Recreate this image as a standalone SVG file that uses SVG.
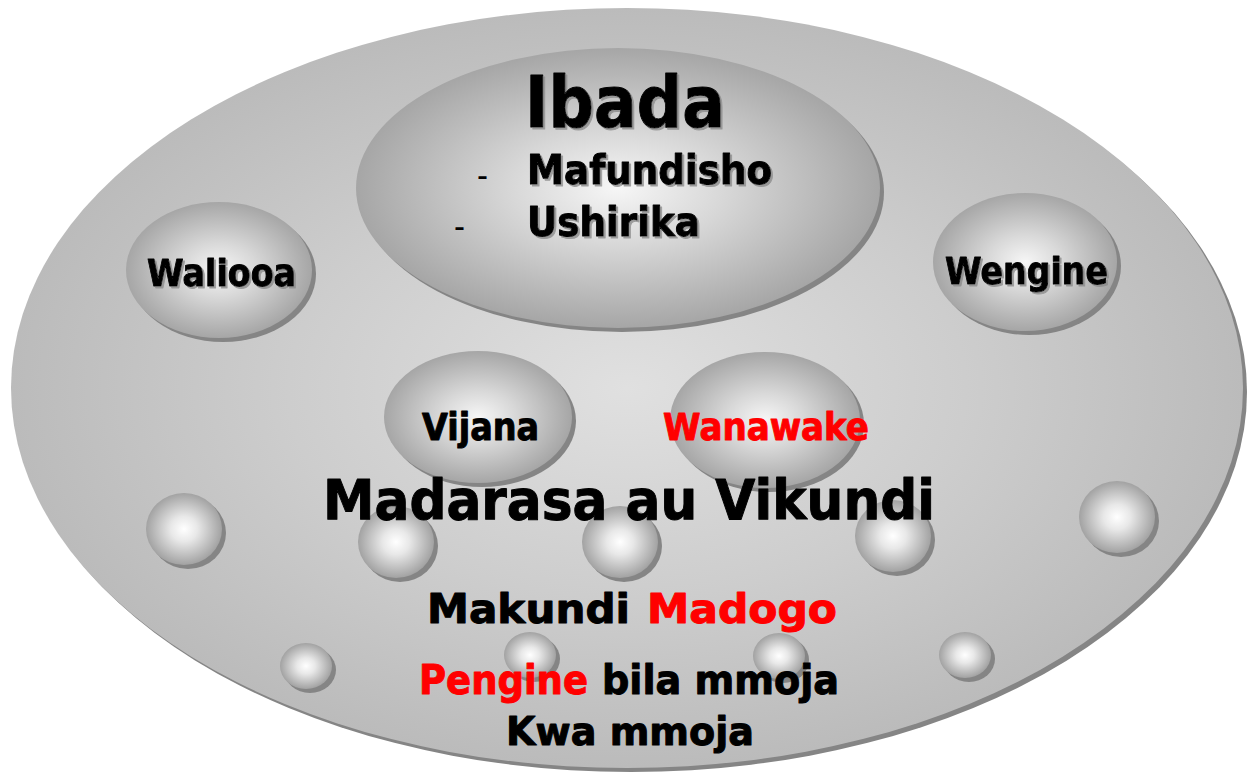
<svg xmlns="http://www.w3.org/2000/svg" width="1248" height="773" viewBox="0 0 1248 773">
<defs>
<radialGradient id="gMain" cx="50%" cy="50%" r="50%">
<stop offset="0" stop-color="#e0e0e0"/>
<stop offset="0.55" stop-color="#cdcdcd"/>
<stop offset="1" stop-color="#bbbbbb"/>
</radialGradient>
<radialGradient id="gBub" cx="50%" cy="50%" r="50%">
<stop offset="0" stop-color="#ffffff"/>
<stop offset="0.35" stop-color="#e8e8e8"/>
<stop offset="1" stop-color="#a2a2a2"/>
</radialGradient>
<radialGradient id="gBig" cx="50%" cy="50%" r="50%">
<stop offset="0" stop-color="#f6f6f6"/>
<stop offset="0.4" stop-color="#d8d8d8"/>
<stop offset="1" stop-color="#a6a6a6"/>
</radialGradient>
<filter id="ts" x="-10%" y="-10%" width="130%" height="140%">
<feDropShadow dx="2" dy="2" stdDeviation="0.6" flood-color="#8a8a8a" flood-opacity="0.8"/>
</filter>
</defs>
<style>
.sh{fill:#858585}
.bub{fill:url(#gBub)}
.big{fill:url(#gBig)}
.t{font-family:"DejaVu Sans","Liberation Sans",sans-serif;font-weight:bold;fill:#000;stroke:#000;stroke-width:1;stroke-linejoin:round}
.r{fill:#ff0000;stroke:#ff0000}
.d{font-family:"DejaVu Sans","Liberation Sans",sans-serif;font-weight:normal;fill:#000;font-size:34px}
</style>
<g id="outer">
<ellipse class="sh" cx="631" cy="392" rx="616" ry="380"/>
<ellipse cx="627" cy="388" rx="616" ry="380" fill="url(#gMain)"/>
</g>
<g id="ibada">
<ellipse class="sh" cx="622" cy="192" rx="262" ry="140"/>
<ellipse class="big" cx="618" cy="188" rx="262" ry="140"/>
<g filter="url(#ts)">
<text class="t" x="525" y="127" font-size="71" textLength="200" lengthAdjust="spacingAndGlyphs">Ibada</text>
<text class="t" x="527" y="184" font-size="40" textLength="245" lengthAdjust="spacingAndGlyphs">Mafundisho</text>
<text class="t" x="527" y="236" font-size="40" textLength="173" lengthAdjust="spacingAndGlyphs">Ushirika</text>
</g>
<text class="d" x="477" y="187" textLength="11" lengthAdjust="spacingAndGlyphs">-</text>
<text class="d" x="454" y="238" textLength="11" lengthAdjust="spacingAndGlyphs">-</text>
</g>
<g id="waliooa">
<ellipse class="sh" cx="223" cy="274" rx="93" ry="68"/>
<ellipse class="big" cx="219" cy="270" rx="93" ry="68"/>
<text class="t" x="147" y="286" font-size="38" textLength="149" lengthAdjust="spacingAndGlyphs" filter="url(#ts)">Waliooa</text>
</g>
<g id="wengine">
<ellipse class="sh" cx="1029" cy="266" rx="92" ry="69"/>
<ellipse class="big" cx="1025" cy="262" rx="92" ry="69"/>
<text class="t" x="945" y="284" font-size="38" textLength="163" lengthAdjust="spacingAndGlyphs" filter="url(#ts)">Wengine</text>
</g>
<g id="vijana">
<ellipse class="sh" cx="482" cy="421" rx="94" ry="66"/>
<ellipse class="big" cx="478" cy="417" rx="94" ry="66"/>
<text class="t" x="422" y="440" font-size="37" textLength="117" lengthAdjust="spacingAndGlyphs">Vijana</text>
</g>
<g id="wanawake">
<ellipse class="sh" cx="769" cy="424" rx="95" ry="68"/>
<ellipse class="big" cx="765" cy="420" rx="95" ry="68"/>
<text class="t r" x="663" y="440" font-size="37" textLength="206" lengthAdjust="spacingAndGlyphs">Wanawake</text>
</g>
<g id="bubbles">
<ellipse class="sh" cx="188" cy="533" rx="38" ry="36"/>
<ellipse class="bub" cx="184" cy="529" rx="38" ry="36"/>
<ellipse class="sh" cx="400" cy="546" rx="38" ry="36"/>
<ellipse class="bub" cx="396" cy="542" rx="38" ry="36"/>
<ellipse class="sh" cx="624" cy="546" rx="38" ry="36"/>
<ellipse class="bub" cx="620" cy="542" rx="38" ry="36"/>
<ellipse class="sh" cx="897" cy="540" rx="38" ry="36"/>
<ellipse class="bub" cx="893" cy="536" rx="38" ry="36"/>
<ellipse class="sh" cx="1121" cy="521" rx="38" ry="36"/>
<ellipse class="bub" cx="1117" cy="517" rx="38" ry="36"/>
<ellipse class="sh" cx="310" cy="670" rx="26" ry="23"/>
<ellipse class="bub" cx="306" cy="666" rx="26" ry="23"/>
<ellipse class="sh" cx="534" cy="659" rx="26" ry="23"/>
<ellipse class="bub" cx="530" cy="655" rx="26" ry="23"/>
<ellipse class="sh" cx="783" cy="660" rx="26" ry="23"/>
<ellipse class="bub" cx="779" cy="656" rx="26" ry="23"/>
<ellipse class="sh" cx="969" cy="659" rx="26" ry="23"/>
<ellipse class="bub" cx="965" cy="655" rx="26" ry="23"/>
</g>
<g id="labels">
<text class="t" x="323" y="519" font-size="56" textLength="612" lengthAdjust="spacingAndGlyphs">Madarasa au Vikundi</text>
<text class="t" x="427" y="623" font-size="41"><tspan textLength="203" lengthAdjust="spacingAndGlyphs">Makundi</tspan><tspan class="r" x="647" textLength="190" lengthAdjust="spacingAndGlyphs">Madogo</tspan></text>
<text class="t" x="419" y="694" font-size="40"><tspan class="r" textLength="169" lengthAdjust="spacingAndGlyphs">Pengine</tspan><tspan x="602" textLength="237" lengthAdjust="spacingAndGlyphs">bila mmoja</tspan></text>
<text class="t" x="506" y="745" font-size="39" textLength="248" lengthAdjust="spacingAndGlyphs">Kwa mmoja</text>
</g>
<g id="connectors"/>
</svg>
